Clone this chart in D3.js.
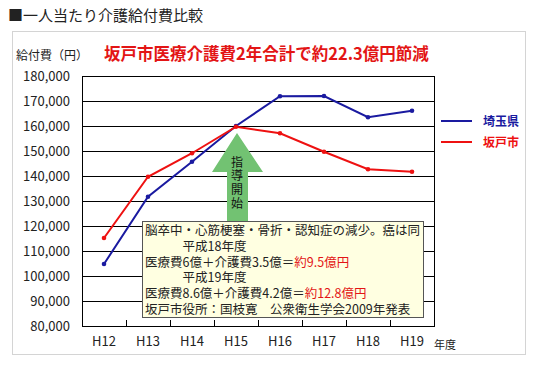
<!DOCTYPE html>
<html>
<head>
<meta charset="utf-8">
<script src="https://cdn.jsdelivr.net/npm/d3@7"></script>
<style>
  body { margin: 0; background: #fff; }
  svg text { font-family: "Noto Sans CJK JP", "Noto Sans", sans-serif; }
</style>
</head>
<body>
<div id="chart"></div>
<script>
// data
var years = ["H12", "H13", "H14", "H15", "H16", "H17", "H18", "H19"];
var saitama = [104800, 131700, 145700, 160000, 171900, 172000, 163500, 166100];
var sakado = [115200, 139700, 149100, 159700, 157100, 149700, 142700, 141700];
var yTicks = [80000, 90000, 100000, 110000, 120000, 130000, 140000, 150000, 160000, 170000, 180000];
var seriesNames = ["埼玉県", "坂戸市"];
var seriesColors = ["#1a1aa0", "#ee1111"];
var noteLines = [
  [{t: "脳卒中・心筋梗塞・骨折・認知症の減少。癌は同"}],
  [{t: "　　　平成18年度"}],
  [{t: "医療費6億＋介護費3.5億＝"}, {t: "約9.5億円", red: true}],
  [{t: "　　　平成19年度"}],
  [{t: "医療費8.6億＋介護費4.2億＝"}, {t: "約12.8億円", red: true}],
  [{t: "坂戸市役所：国枝寛　公衆衛生学会2009年発表"}]
];

var width = 534, height = 365;
var margin = {top: 76, left: 82, right: 100, bottom: 39};

var svg = d3.select("#chart").append("svg")
  .attr("width", width)
  .attr("height", height);

svg.append("text")
  .attr("x", 8).attr("y", 21)
  .attr("font-size", 15).attr("fill", "#222")
  .text("■一人当たり介護給付費比較");

svg.append("rect")
  .attr("x", 12.5).attr("y", 31.5)
  .attr("width", 513).attr("height", 323)
  .attr("fill", "none").attr("stroke", "#d4d4d4");

svg.append("text")
  .attr("x", 16).attr("y", 60)
  .attr("font-size", 12).attr("fill", "#222")
  .text("給付費（円）");

svg.append("text")
  .attr("x", 104).attr("y", 60)
  .attr("font-size", 16.5).attr("font-weight", "bold").attr("fill", "#e31515")
  .text("坂戸市医療介護費2年合計で約22.3億円節減");

var x = d3.scaleBand()
  .domain(years)
  .range([margin.left, width - margin.right]);

var y = d3.scaleLinear()
  .domain([80000, 180000])
  .range([height - margin.bottom, margin.top]);

// grid
svg.append("g").selectAll("line")
  .data(yTicks)
  .enter().append("line")
  .attr("x1", margin.left).attr("x2", width - margin.right)
  .attr("y1", function(d) { return Math.round(y(d)) + 0.5; })
  .attr("y2", function(d) { return Math.round(y(d)) + 0.5; })
  .attr("stroke", "#000").attr("stroke-width", 1);

// plot frame
svg.append("rect")
  .attr("x", margin.left + 0.5).attr("y", Math.round(y(180000)) + 0.5)
  .attr("width", width - margin.right - margin.left)
  .attr("height", Math.round(y(80000)) - Math.round(y(180000)))
  .attr("fill", "none").attr("stroke", "#000");

// y axis labels
svg.append("g").selectAll("text")
  .data(yTicks)
  .enter().append("text")
  .attr("x", 70).attr("y", function(d) { return y(d) + 4.5; })
  .attr("text-anchor", "end").attr("font-size", 13).attr("fill", "#222")
  .text(function(d) { return d3.format(",")(d); });

// x ticks and labels
var xAxis = d3.axisBottom(x).tickSize(0).tickPadding(0);
var xg = svg.append("g")
  .attr("transform", "translate(0," + y(80000) + ")")
  .call(xAxis);
xg.select(".domain").remove();
xg.selectAll("text")
  .attr("y", 20).attr("dy", 0)
  .attr("font-size", 13).attr("fill", "#222")
  .style("font-family", "'Noto Sans CJK JP', sans-serif");

svg.append("g").selectAll("line")
  .data(years.slice(1))
  .enter().append("line")
  .attr("x1", function(d) { return Math.round(x(d)) + 0.5; })
  .attr("x2", function(d) { return Math.round(x(d)) + 0.5; })
  .attr("y1", y(80000)).attr("y2", y(80000) - 6)
  .attr("stroke", "#000");

svg.append("text")
  .attr("x", 434).attr("y", 349)
  .attr("font-size", 11).attr("fill", "#222")
  .text("年度");

// lines
var line = d3.line()
  .x(function(d, i) { return x(years[i]) + x.bandwidth() / 2; })
  .y(function(d) { return y(d); });

[saitama, sakado].forEach(function(s, k) {
  svg.append("path")
    .datum(s)
    .attr("d", line)
    .attr("fill", "none")
    .attr("stroke", seriesColors[k])
    .attr("stroke-width", 2);
  svg.append("g").selectAll("circle")
    .data(s)
    .enter().append("circle")
    .attr("cx", function(d, i) { return x(years[i]) + x.bandwidth() / 2; })
    .attr("cy", function(d) { return y(d); })
    .attr("r", 2.3)
    .attr("fill", seriesColors[k]);
});

// green arrow
var ax = x("H15") + x.bandwidth() / 2 + 1;
var arrowTop = 133, headBase = 172, arrowBottom = 222;
svg.append("path")
  .attr("d", "M" + ax + "," + arrowTop +
    " L" + (ax + 26) + "," + headBase +
    " L" + (ax + 11) + "," + headBase +
    " L" + (ax + 11) + "," + arrowBottom +
    " L" + (ax - 10) + "," + arrowBottom +
    " L" + (ax - 10) + "," + headBase +
    " L" + (ax - 25) + "," + headBase + " Z")
  .attr("fill", "#72c272");

svg.append("text")
  .attr("x", ax).attr("y", 156)
  .style("writing-mode", "vertical-rl")
  .style("text-orientation", "upright")
  .attr("font-size", 12).attr("letter-spacing", 1.8).attr("fill", "#111")
  .text("指導開始");

// note box
svg.append("rect")
  .attr("x", 142.5).attr("y", 221.5)
  .attr("width", 281).attr("height", 96)
  .attr("fill", "#ffffe1").attr("stroke", "#555");

var note = svg.append("text")
  .attr("font-size", 12.5).attr("fill", "#222")
  .selectAll("tspan")
  .data(noteLines)
  .enter().append("tspan")
  .attr("x", 145).attr("y", function(d, i) { return 235 + i * 15.8; });
note.selectAll("tspan")
  .data(function(d) { return d; })
  .enter().append("tspan")
  .attr("fill", function(d) { return d.red ? "#e31515" : "#222"; })
  .text(function(d) { return d.t; });

// legend
var lg = svg.append("g").selectAll("g")
  .data(seriesNames)
  .enter().append("g")
  .attr("transform", function(d, i) { return "translate(441," + (121 + i * 21) + ")"; });
lg.append("line")
  .attr("x1", 0).attr("x2", 31)
  .attr("stroke", function(d, i) { return seriesColors[i]; })
  .attr("stroke-width", 2);
lg.append("text")
  .attr("x", 42).attr("y", 4.5)
  .attr("font-size", 12).attr("font-weight", "bold")
  .attr("fill", function(d, i) { return seriesColors[i]; })
  .text(function(d) { return d; });
</script>
</body>
</html>
